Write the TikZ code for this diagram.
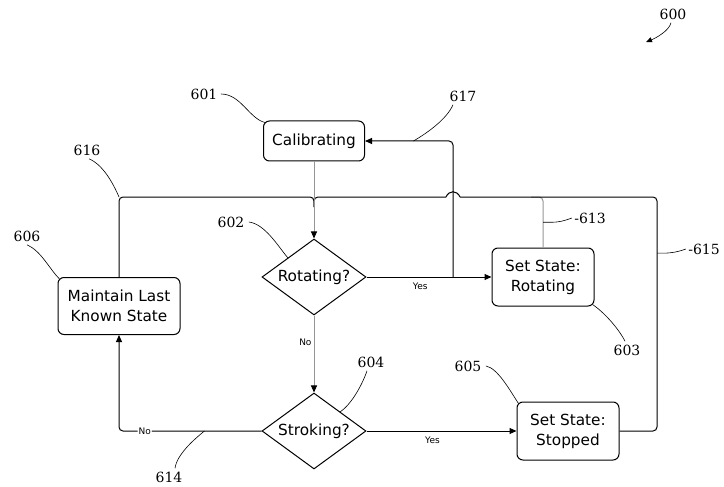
\documentclass[tikz,border=0pt]{standalone}
\usepackage{fontspec}
\setmainfont{DejaVu Sans}
\newfontfamily\refnumfont{DejaVu Serif}
\usepackage{xcolor}
\usetikzlibrary{shapes.geometric,arrows.meta}
\definecolor{linegrey}{RGB}{150,150,150}

\begin{document}
\begin{tikzpicture}[x=1pt, y=-1pt, line width=1pt,
    state/.style={rectangle, draw, rounded corners=6pt, align=center, inner sep=2pt,
                  minimum width=102pt, minimum height=58pt, font=\fontsize{15.3}{20}\selectfont},
    test/.style={diamond, draw, aspect=1.39, inner sep=0pt,
                 minimum width=104pt, minimum height=76pt, font=\fontsize{15.3}{20}\selectfont},
    flow/.style={-{Triangle[length=7pt,width=6pt,color=black]}},
    elbow/.style={rounded corners=4pt},
    ans/.style={font=\fontsize{9}{10}\selectfont, inner sep=1pt},
    lab/.style={font=\refnumfont\fontsize{14}{16}\selectfont, inner sep=0pt},
    lead/.style={line width=0.6pt}]
\useasboundingbox (0,0) rectangle (724,487);
\node[state, minimum width=101pt, minimum height=40pt] (cal) at (314,141) {Calibrating};
\node[test] (rot) at (314,277) {Rotating?};
\node[test] (strk) at (314,431) {Stroking?};
\node[state, minimum width=122pt, minimum height=57pt] (maint) at (119,306) {Maintain Last\\Known State};
\node[state] (setrot) at (543,277) {Set State:\\Rotating};
\node[state] (setstop) at (568,431) {Set State:\\Stopped};
\coordinate (jtop) at (314,197);
\coordinate (jyes) at (453,277);
\coordinate (rr) at (657,197);
\coordinate (hopR) at (460,197);
\coordinate (hopL) at (446,197);
\draw[elbow, draw=linegrey] (setrot.north) -- coordinate[pos=0.5] (c613) (setrot.north |- rr) -- ++(-12,0);
\draw[elbow] (maint.north) |- coordinate[pos=0.5] (c616) (jtop) -- ++(0,10);
\draw[elbow] (setstop.east) -| coordinate[pos=0.88] (c615) (rr) -- (hopR);
\draw (hopR) .. controls +(-3,-7) and +(3,-7) .. (hopL);
\draw[elbow] (hopL) -- (jtop) -- ++(0,10);
\draw[flow, draw=linegrey] (cal) -- (rot);
\draw[flow] (rot.east) -- node[ans, pos=0.43, below=4pt] {Yes} (setrot.west);
\draw[flow, elbow] (jyes) -- (jyes |- cal.east) -- coordinate[pos=0.45] (c617) (cal.east);
\draw[flow, draw=linegrey] (rot) -- node[ans, pos=0.35, left=1pt] {No} (strk);
\draw[flow, elbow] (strk.west) -| coordinate[pos=0.2] (c614) node[ans, pos=0.41, fill=white] {No} (maint.south);
\draw[flow] (strk.east) -- node[ans, pos=0.44, below=4pt] {Yes} (setstop.west);
\node[lab] (l600) at (673,14) {600};
\node[lab] (l601) at (204,94) {601};
\node[lab] (l617) at (463,96) {617};
\node[lab] (l616) at (87,150) {616};
\node[lab] (l606) at (27,236) {606};
\node[lab] (l602) at (231,222) {602};
\node[lab] (l613) at (590,218) {-613};
\node[lab] (l615) at (704,249) {-615};
\node[lab] (l603) at (627,350) {603};
\node[lab] (l604) at (371,362) {604};
\node[lab] (l605) at (468,366) {605};
\node[lab] (l614) at (169,477) {614};
\coordinate (c600) at (646,42);
\draw[lead, -{Triangle[length=6pt,width=5pt]}] ([shift={(-2,3)}]l600.south) .. controls +(-2,8) and +(10,-4) .. (c600);
\draw[lead] ([xshift=3pt]l601.east) .. controls +(20,0) and +(-16,-4) .. ([shift={(2,2)}]cal.north west);
\draw[lead] ([shift={(-10,3)}]l617.south) .. controls +(-6,14) and +(14,-8) .. (c617);
\draw[lead] ([shift={(2,3)}]l616.south) .. controls +(14,6) and +(-6,-14) .. (c616);
\draw[lead] ([shift={(0,3)}]l606.south) .. controls +(14,6) and +(-10,-10) .. ([shift={(2,2)}]maint.north west);
\draw[lead] ([xshift=4pt]l602.east) .. controls +(16,2) and +(-10,-12) .. (rot.north west);
\draw[lead] (c613) -- ++(8,0) .. controls +(8,0) and +(-8,3) .. ([xshift=-2pt]l613.west);
\draw[lead] (c615) -- ++(6,0) .. controls +(8,0) and +(-8,3) .. ([xshift=-2pt]l615.west);
\draw[lead] ([shift={(-2,-2)}]setrot.south east) .. controls +(12,8) and +(-6,-12) .. ([shift={(-2,-3)}]l603.north);
\draw[lead] ([shift={(-4,3)}]l604.south) .. controls +(-4,12) and +(12,-8) .. (strk.north east);
\draw[lead] ([xshift=4pt]l605.east) .. controls +(12,2) and +(-8,-12) .. ([shift={(2,2)}]setstop.north west);
\draw[lead] ([shift={(6,-3)}]l614.north) .. controls +(2,-14) and +(-10,8) .. (c614);
\end{tikzpicture}
\end{document}
